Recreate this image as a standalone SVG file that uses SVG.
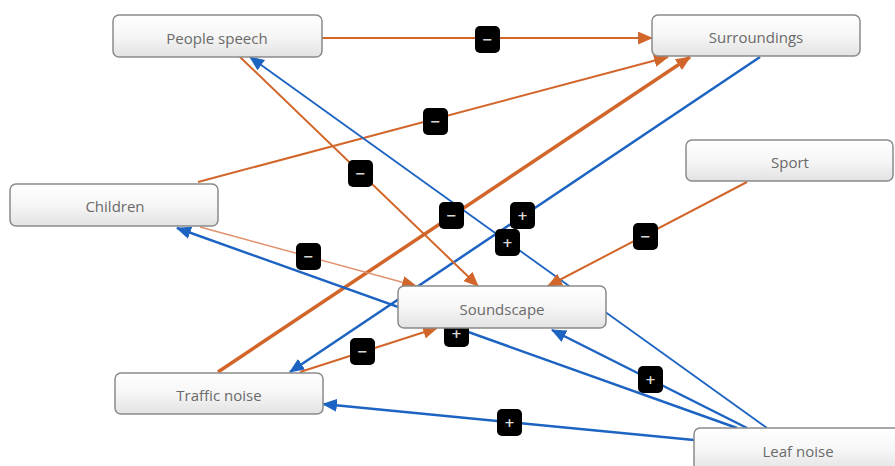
<svg xmlns="http://www.w3.org/2000/svg" width="895" height="466" viewBox="0 0 895 466">
<defs>
<linearGradient id="ng" x1="0" y1="0" x2="0" y2="1">
<stop offset="0" stop-color="#ffffff"/>
<stop offset="0.5" stop-color="#f6f6f6"/>
<stop offset="1" stop-color="#e2e2e2"/>
</linearGradient>
<marker id="ao" viewBox="0 0 14 12" refX="13" refY="6" markerWidth="15" markerHeight="13" markerUnits="userSpaceOnUse" orient="auto">
<path d="M0,0 L14,6 L0,12 z" fill="#d2662a"/>
</marker>
<marker id="ab" viewBox="0 0 14 12" refX="13" refY="6" markerWidth="15" markerHeight="13" markerUnits="userSpaceOnUse" orient="auto">
<path d="M0,0 L14,6 L0,12 z" fill="#1c63c2"/>
</marker>
<style>
.o{stroke:#d2662a;stroke-width:2;fill:none;marker-end:url(#ao)}
.ot{stroke:#d2662a;stroke-width:3.5;fill:none;marker-end:url(#ao)}
.oth{stroke:#e0906a;stroke-width:1.4;fill:none;marker-end:url(#ao)}
.b{stroke:#1c63c2;stroke-width:2.5;fill:none;marker-end:url(#ab)}
.bt{stroke:#1c63c2;stroke-width:1.8;fill:none;marker-end:url(#ab)}
.lb rect{fill:#000}
.lb text{fill:#d8d8d8;font-family:"DejaVu Sans",sans-serif;font-size:13px;font-weight:bold;text-anchor:middle}
.n rect{fill:url(#ng);stroke:#8a8a8a;stroke-width:1.5}
.n text{fill:#6a6a6a;font-family:"Open Sans","Noto Sans",sans-serif;font-size:15px;text-anchor:middle}
</style>
</defs>
<g id="connectors">
<line class="o" x1="322" y1="38" x2="652" y2="38"/>
<line class="o" x1="198" y1="182" x2="668" y2="57"/>
<line class="ot" x1="218" y1="372" x2="690" y2="57"/>
<line class="b" x1="760" y1="57" x2="290" y2="372"/>
<line class="o" x1="240" y1="57" x2="478" y2="286"/>
<line class="bt" x1="767" y1="428" x2="250" y2="57"/>
<line class="o" x1="747" y1="182" x2="548" y2="286"/>
<line class="oth" x1="200" y1="227" x2="416" y2="286"/>
<line class="b" x1="737" y1="428" x2="177" y2="228"/>
<line class="o" x1="300" y1="372" x2="437" y2="328"/>
<line class="b" x1="747" y1="428" x2="552" y2="330"/>
<line class="b" x1="694" y1="440" x2="323" y2="404"/>
<g class="lb">
<rect x="475" y="26" width="25" height="27" rx="5"/><text x="487.5" y="44">−</text>
<rect x="423" y="108" width="25" height="27" rx="5"/><text x="435.5" y="126">−</text>
<rect x="348" y="160" width="25" height="27" rx="5"/><text x="360.5" y="178">−</text>
<rect x="439" y="202" width="25" height="27" rx="5"/><text x="451.5" y="220">−</text>
<rect x="510" y="202" width="25" height="27" rx="5"/><text x="522.5" y="220">+</text>
<rect x="495" y="229" width="25" height="27" rx="5"/><text x="507.5" y="247">+</text>
<rect x="633" y="223" width="25" height="27" rx="5"/><text x="645.5" y="241">−</text>
<rect x="296" y="243" width="25" height="27" rx="5"/><text x="308.5" y="261">−</text>
<rect x="350" y="338" width="25" height="27" rx="5"/><text x="362.5" y="356">−</text>
<rect x="444" y="320" width="25" height="27" rx="5"/><text x="456.5" y="338">+</text>
<rect x="638" y="366" width="25" height="27" rx="5"/><text x="650.5" y="384">+</text>
<rect x="497" y="409" width="25" height="27" rx="5"/><text x="509.5" y="427">+</text>
</g>
</g>
<g id="people-speech" class="n"><rect x="113" y="15" width="209" height="42" rx="6"/><text x="217" y="44">People speech</text></g>
<g id="surroundings" class="n"><rect x="652" y="15" width="208" height="41" rx="6"/><text x="756" y="43">Surroundings</text></g>
<g id="sport" class="n"><rect x="686" y="140" width="207" height="41" rx="6"/><text x="790" y="168">Sport</text></g>
<g id="children" class="n"><rect x="10" y="184" width="208" height="42" rx="6"/><text x="115" y="212">Children</text></g>
<g id="soundscape" class="n"><rect x="398" y="286" width="208" height="42" rx="6"/><text x="502" y="315">Soundscape</text></g>
<g id="traffic-noise" class="n"><rect x="115" y="373" width="208" height="41" rx="6"/><text x="219" y="401">Traffic noise</text></g>
<g id="leaf-noise" class="n"><rect x="694" y="428" width="210" height="44" rx="6"/><text x="798" y="457">Leaf noise</text></g>
</svg>
